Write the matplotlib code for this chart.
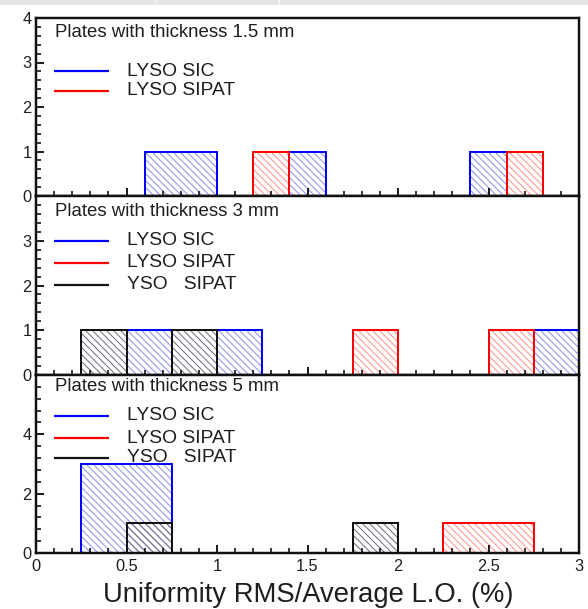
import numpy as np
import matplotlib
matplotlib.use("Agg")
import matplotlib.pyplot as plt
from matplotlib.patches import Rectangle
from matplotlib.ticker import MultipleLocator, FixedLocator

plt.rcParams['font.family'] = ['Liberation Sans', 'DejaVu Sans']
plt.rcParams['hatch.linewidth'] = 0.85

# ---- histogram data: counts per bin ----
# 1.5 mm plates, bin width 0.2 (0 .. 3)
edges_15 = np.round(np.arange(0, 3.0001, 0.2), 2)
sic_15 = [0, 0, 0, 1, 1, 0, 0, 1, 0, 0, 0, 0, 1, 0, 0]
sipat_15 = [0, 0, 0, 0, 0, 0, 1, 0, 0, 0, 0, 0, 0, 1, 0]

# 3 mm plates, bin width 0.25 (0 .. 3)
edges_3 = np.round(np.arange(0, 3.0001, 0.25), 2)
sic_3 = [0, 0, 1, 0, 1, 0, 0, 0, 0, 0, 0, 1]
sipat_3 = [0, 0, 0, 0, 0, 0, 0, 1, 0, 0, 1, 0]
yso_3 = [0, 1, 0, 1, 0, 0, 0, 0, 0, 0, 0, 0]

# 5 mm plates, bin width 0.25 (0 .. 3)
edges_5 = np.round(np.arange(0, 3.0001, 0.25), 2)
sic_5 = [0, 3, 3, 0, 0, 0, 0, 0, 0, 0, 0, 0]
sipat_5 = [0, 0, 0, 0, 0, 0, 0, 0, 0, 1, 1, 0]
yso_5 = [0, 0, 1, 0, 0, 0, 0, 1, 0, 0, 0, 0]

x_ticks = [0, 0.5, 1, 1.5, 2, 2.5, 3]
x_ticklabels = ["0", "0.5", "1", "1.5", "2", "2.5", "3"]

titles = ["Plates with thickness 1.5 mm",
          "Plates with thickness 3 mm",
          "Plates with thickness 5 mm"]
labels = ["LYSO SIC", "LYSO SIPAT", "YSO   SIPAT"]

# line colour, hatch colour
styles = {
    "LYSO SIC": ("#0000ff", "#8c8cf2"),
    "LYSO SIPAT": ("#ff0000", "#ff9090"),
    "YSO   SIPAT": ("#111111", "#6e6e7e"),
}

panels = [
    dict(edges=edges_15, hists=[sic_15, sipat_15], ymax=4, ymajor=1, yminor=0.2,
         ylabels=[0, 1, 2, 3, 4],
         text_y=0.916, leg_y=[0.702, 0.590]),
    dict(edges=edges_3, hists=[sic_3, sipat_3, yso_3], ymax=4, ymajor=1, yminor=0.2,
         ylabels=[0, 1, 2, 3],
         text_y=0.911, leg_y=[0.749, 0.626, 0.503]),
    dict(edges=edges_5, hists=[sic_5, sipat_5, yso_5], ymax=6, ymajor=2, yminor=0.4,
         ylabels=[0, 2, 4],
         text_y=0.938, leg_y=[0.770, 0.646, 0.534]),
]

DPI = 84
fig = plt.figure(figsize=(588 / DPI, 609 / DPI), dpi=DPI)
W, H = 588.0, 609.0

left, right = 36 / W, 579 / W
bounds_px = [(18, 196), (196, 375), (375, 553)]

text_color = "#1e1e1e"

for i, (p, (top_px, bot_px)) in enumerate(zip(panels, bounds_px)):
    ax = fig.add_axes([left, 1 - bot_px / H, right - left, (bot_px - top_px) / H])
    ax.set_xlim(0, 3)
    ax.set_ylim(0, p["ymax"])

    for lab, counts in zip(labels, p["hists"]):
        line_c, hatch_c = styles[lab]
        ax.stairs(counts, p["edges"], fill=True, facecolor="none",
                  edgecolor=hatch_c, hatch="\\\\\\\\", linewidth=0, zorder=1)
        ax.stairs(counts, p["edges"], color=line_c, linewidth=1.7, zorder=2)

    # panel caption and key
    ax.text(0.035, p["text_y"], titles[i], transform=ax.transAxes,
            fontsize=16, color=text_color, va="center", ha="left")
    for lab, yy in zip(labels, p["leg_y"]):
        line_c, _ = styles[lab]
        ax.plot([0.033, 0.134], [yy, yy], transform=ax.transAxes,
                color=line_c, linewidth=1.9, solid_capstyle="butt")
        ax.text(0.168, yy, lab, transform=ax.transAxes, fontsize=16.5,
                color=text_color, va="center", ha="left")

    for s in ax.spines.values():
        s.set_linewidth(2.1)
        s.set_color("#111111")

    ax.xaxis.set_major_locator(FixedLocator(x_ticks))
    ax.xaxis.set_minor_locator(MultipleLocator(0.1))
    ax.tick_params(axis="both", which="major", direction="in", length=7,
                   width=1.6, color="#111111", labelsize=14,
                   labelcolor=text_color, top=False, right=False)
    ax.tick_params(axis="both", which="minor", direction="in", length=4,
                   width=1.4, color="#111111", top=False, right=False)
    ax.tick_params(axis="y", which="major", pad=4)
    ax.set_yticks(p["ylabels"])
    ax.yaxis.set_minor_locator(MultipleLocator(p["yminor"]))
    ax.set_yticklabels([str(v) for v in p["ylabels"]])

    if i == 2:
        ax.set_xticklabels(x_ticklabels)
        ax.tick_params(axis="x", which="major", pad=5)
    else:
        ax.set_xticklabels([])

fig.text(308 / W, 1 - 595 / H, "Uniformity RMS/Average L.O. (%)",
         fontsize=23.5, color=text_color, ha="center", va="center")

# thin grey band along the top edge
fig.patches.append(Rectangle((0, 1 - 5 / H), 1, 5 / H, transform=fig.transFigure,
                             facecolor="#e4e4e4", edgecolor="none", zorder=0))
for xs in (155, 278):
    fig.patches.append(Rectangle((xs / W, 1 - 5 / H), 1.5 / W, 5 / H,
                                 transform=fig.transFigure,
                                 facecolor="#f4f4f4", edgecolor="none", zorder=0))

fig.savefig("out.png", dpi=DPI)
